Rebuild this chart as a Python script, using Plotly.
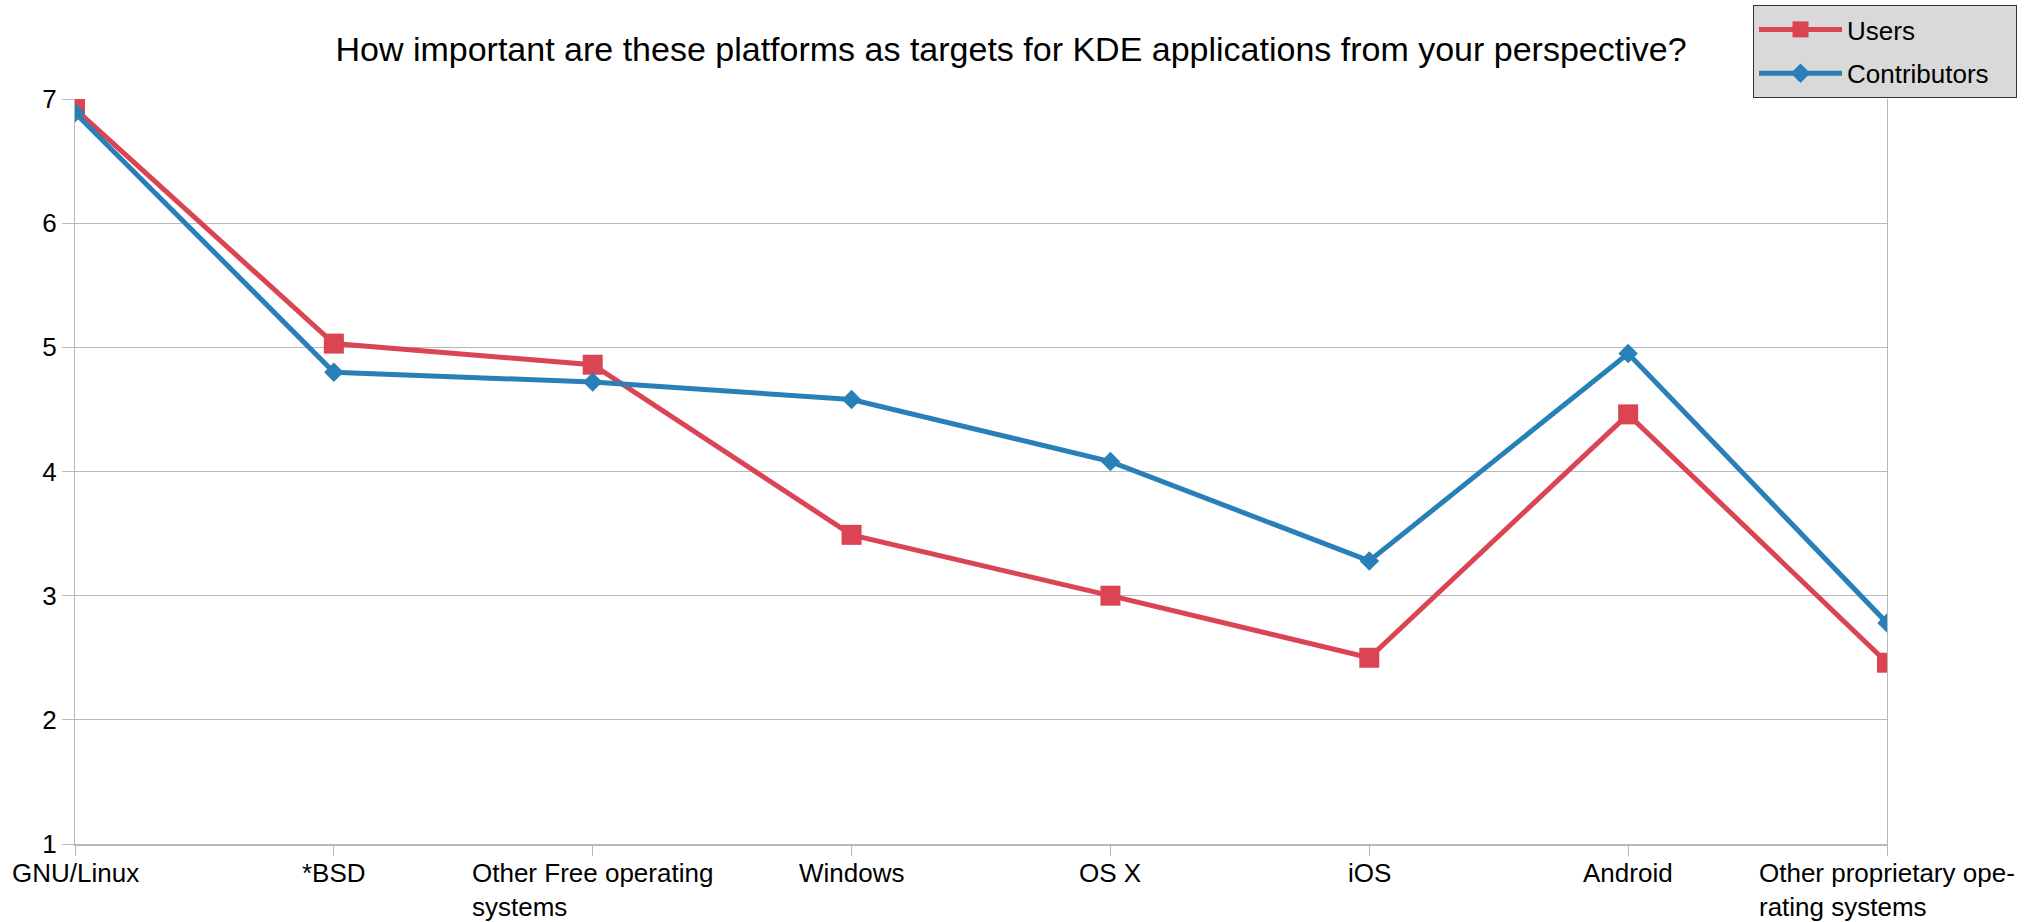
import plotly.graph_objects as go

categories = ["GNU/Linux", "*BSD", "Other Free operating<br>systems", "Windows", "OS X", "iOS",
              "Android", "Other proprietary ope-<br>rating systems"]
users = [6.92, 5.03, 4.86, 3.49, 3.0, 2.5, 4.46, 2.46]
contributors = [6.89, 4.80, 4.72, 4.58, 4.08, 3.28, 4.95, 2.78]
y_ticks = [1, 2, 3, 4, 5, 6, 7]
title = "How important are these platforms as targets for KDE applications from your perspective?"

RED = "#da4453"
BLUE = "#2980b9"
GRID = "#b8b8b8"
FONT = "Liberation Sans, Arial, sans-serif"
PAD = "\u00a0\u00a0\u00a0"

idx = list(range(len(categories)))

fig = go.Figure()
fig.add_trace(go.Scatter(x=idx, y=users, name="Users" + PAD, mode="lines+markers",
                         legendgroup="u",
                         line=dict(color=RED, width=5),
                         marker=dict(symbol="square", size=20, color=RED)))
fig.add_trace(go.Scatter(x=idx, y=contributors, name="Contributors" + PAD, mode="lines+markers",
                         legendgroup="c",
                         line=dict(color=BLUE, width=5),
                         marker=dict(symbol="diamond", size=15, color=BLUE)))

for i, c in enumerate(categories):
    fig.add_annotation(x=i, y=0, xref="x", yref="paper", text=c, showarrow=False,
                       xanchor="center", yanchor="top", align="left", yshift=-12,
                       font=dict(size=26, color="#000000", family=FONT))

fig.update_layout(
    width=2029, height=922,
    paper_bgcolor="white", plot_bgcolor="white",
    margin=dict(l=75, r=142, t=99, b=78, autoexpand=False),
    font=dict(family=FONT, size=26, color="#000000"),
    title=dict(text=title, x=1011 / 2029, xref="container", xanchor="center",
               y=1 - 49 / 922, yref="container", yanchor="middle",
               font=dict(size=34, family=FONT, color="#000000")),
    xaxis=dict(range=[0, len(categories) - 1], tickvals=idx, showticklabels=False,
               ticks="outside", ticklen=10, tickcolor=GRID, tickwidth=1,
               showgrid=False, showline=True, linecolor=GRID, linewidth=2, mirror=False,
               zeroline=False),
    yaxis=dict(range=[1, 7], tickvals=y_ticks, ticks="outside", ticklen=12, tickcolor=GRID,
               showgrid=True, gridcolor=GRID, gridwidth=1, showline=True, linecolor=GRID,
               linewidth=1, mirror=True, zeroline=False,
               tickfont=dict(size=26, family=FONT, color="#000000")),
    legend=dict(x=(1753 - 75) / 1812, y=(844 - 5) / 745, xanchor="left", yanchor="top",
                bgcolor="#d9d9d9", bordercolor="#333333", borderwidth=1,
                font=dict(size=26, family=FONT, color="#000000"),
                itemwidth=83, traceorder="grouped", tracegroupgap=7),
    showlegend=True,
)

fig.write_html("out.html", config={"displayModeBar": False},
               post_script="document.body.style.margin='0px';document.body.style.padding='0px';")
